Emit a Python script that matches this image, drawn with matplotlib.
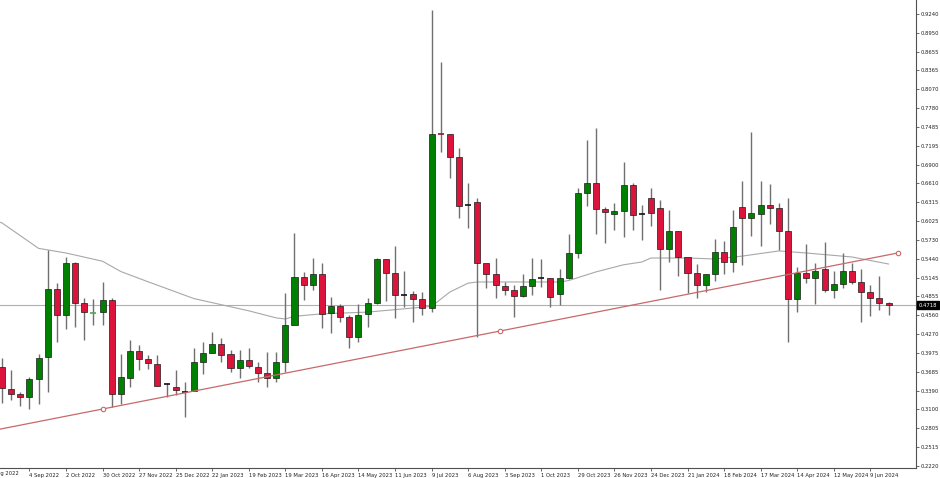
import matplotlib
matplotlib.use("Agg")
import matplotlib.pyplot as plt
import matplotlib.transforms as mtrans
import numpy as np

# weekly candles, first visible week = 14 Aug 2022
opens = [0.3757, 0.3416, 0.3338, 0.3292, 0.3571, 0.3913, 0.4969, 0.4565, 0.5373, 0.4751,
         0.4596, 0.4612, 0.4798, 0.3338, 0.3587, 0.4006, 0.3882, 0.3804, 0.3493, 0.3447,
         0.3369, 0.3385, 0.3835, 0.3975, 0.4115, 0.3959, 0.3742, 0.3866, 0.3757, 0.3664,
         0.3587, 0.3835, 0.4410, 0.5155, 0.5031, 0.5202, 0.4596, 0.4705, 0.4534, 0.4223,
         0.4581, 0.4751, 0.5435, 0.5217, 0.4876, 0.4891, 0.4814, 0.4674, 0.7376, 0.7376,
         0.7019, 0.6273, 0.6320, 0.5373, 0.5202, 0.5015, 0.4953, 0.4860, 0.5015, 0.5140,
         0.5140, 0.4891, 0.5140, 0.5528, 0.6460, 0.6615, 0.6211, 0.6134, 0.6180, 0.6584,
         0.6134, 0.6382, 0.6227, 0.5590, 0.5870, 0.5466, 0.5217, 0.5031, 0.5202, 0.5543,
         0.5388, 0.6242, 0.6071, 0.6134, 0.6273, 0.6227, 0.5870, 0.4814, 0.5217, 0.5140,
         0.5279, 0.4953, 0.5046, 0.5248, 0.5078, 0.4922, 0.4829, 0.4751]
highs = [0.3897, 0.3711, 0.3369, 0.3602, 0.3959, 0.5574, 0.5062, 0.5466, 0.5388, 0.4829,
         0.4814, 0.5078, 0.4829, 0.3959, 0.4177, 0.4099, 0.3944, 0.3944, 0.3509, 0.3711,
         0.3525, 0.4053, 0.4146, 0.4301, 0.4208, 0.4021, 0.4021, 0.4053, 0.3835, 0.3990,
         0.3990, 0.4907, 0.5839, 0.5233, 0.5450, 0.5373, 0.4845, 0.4736, 0.4565, 0.4736,
         0.4829, 0.5450, 0.5435, 0.5637, 0.5248, 0.4938, 0.4922, 0.9302, 0.8494, 0.7376,
         0.7159, 0.6615, 0.6382, 0.5373, 0.5450, 0.5078, 0.5031, 0.5202, 0.5450, 0.5435,
         0.5140, 0.5279, 0.5823, 0.6537, 0.7283, 0.7469, 0.6242, 0.6304, 0.6941, 0.6615,
         0.6273, 0.6537, 0.6351, 0.6196, 0.5870, 0.5466, 0.5357, 0.5202, 0.5745, 0.5714,
         0.6196, 0.6646, 0.7407, 0.6646, 0.6599, 0.6304, 0.6382, 0.5310, 0.5668, 0.5373,
         0.5699, 0.5248, 0.5528, 0.5373, 0.5279, 0.5031, 0.5171, 0.4767]
lows = [0.3198, 0.3245, 0.3152, 0.3105, 0.3183, 0.3369, 0.4146, 0.4348, 0.4379, 0.4177,
        0.4410, 0.4410, 0.3136, 0.3183, 0.3447, 0.3711, 0.3726, 0.3462, 0.3292, 0.3323,
        0.2981, 0.3385, 0.3649, 0.3975, 0.3835, 0.3680, 0.3587, 0.3742, 0.3525, 0.3447,
        0.3525, 0.3680, 0.4410, 0.4798, 0.4953, 0.4363, 0.4286, 0.4456, 0.4053, 0.4146,
        0.4379, 0.4736, 0.4782, 0.4518, 0.4689, 0.4456, 0.4565, 0.4612, 0.7096, 0.6693,
        0.6071, 0.5916, 0.4223, 0.4984, 0.4829, 0.4876, 0.4534, 0.4845, 0.4876, 0.5000,
        0.4689, 0.4720, 0.5124, 0.5450, 0.6258, 0.5823, 0.5683, 0.5885, 0.5776, 0.5885,
        0.5730, 0.5947, 0.4953, 0.5388, 0.5171, 0.4907, 0.4829, 0.4922, 0.5093, 0.5202,
        0.5233, 0.5342, 0.5792, 0.5637, 0.5978, 0.5574, 0.4146, 0.4612, 0.5062, 0.4736,
        0.4922, 0.4829, 0.4984, 0.5046, 0.4456, 0.4550, 0.4643, 0.4565]
closes = [0.3431, 0.3338, 0.3292, 0.3571, 0.3897, 0.4969, 0.4565, 0.5373, 0.4751, 0.4612,
          0.4600, 0.4798, 0.3338, 0.3602, 0.4006, 0.3882, 0.3820, 0.3462, 0.3493, 0.3400,
          0.3369, 0.3835, 0.3975, 0.4115, 0.3944, 0.3742, 0.3866, 0.3773, 0.3664, 0.3587,
          0.3835, 0.4410, 0.5155, 0.5031, 0.5202, 0.4581, 0.4705, 0.4534, 0.4223, 0.4565,
          0.4751, 0.5435, 0.5217, 0.4876, 0.4876, 0.4814, 0.4674, 0.7376, 0.7374, 0.7019,
          0.6258, 0.6273, 0.5373, 0.5202, 0.5031, 0.4953, 0.4860, 0.5015, 0.5124, 0.5140,
          0.4845, 0.5140, 0.5528, 0.6460, 0.6615, 0.6211, 0.6165, 0.6180, 0.6584, 0.6118,
          0.6134, 0.6149, 0.5590, 0.5870, 0.5466, 0.5217, 0.5031, 0.5202, 0.5543, 0.5388,
          0.5932, 0.6071, 0.6149, 0.6273, 0.6227, 0.5870, 0.4814, 0.5217, 0.5140, 0.5248,
          0.4953, 0.5046, 0.5248, 0.5078, 0.4922, 0.4829, 0.4751, 0.4718]

# moving average, read at some bar positions
ma_idx = [-1, 0, 4, 7, 11, 13, 16, 21, 24, 27, 30, 31, 32, 35, 40, 47, 49, 51, 52, 61,
          62, 65, 68, 70, 71, 75, 78, 81, 85, 88, 93, 97]
ma_val = [0.6040, 0.5995, 0.5600, 0.5528, 0.5400, 0.5240, 0.5080, 0.4820, 0.4725, 0.4630,
          0.4520, 0.4503, 0.4545, 0.4583, 0.4610, 0.4700, 0.4922, 0.5060, 0.5078, 0.5078,
          0.5100, 0.5235, 0.5345, 0.5388, 0.5450, 0.5450, 0.5435, 0.5480, 0.5560, 0.5528,
          0.5466, 0.5357]

# trendline anchors (bar index, price)
trend_a = (11, 0.3105)
trend_b = (98, 0.5528)
last_price = 0.4718

yticks = [0.9240, 0.8950, 0.8655, 0.8365, 0.8070, 0.7780, 0.7485, 0.7195, 0.6900, 0.6610,
          0.6315, 0.6025, 0.5730, 0.5440, 0.5145, 0.4855, 0.4560, 0.4270, 0.3975, 0.3685,
          0.3390, 0.3100, 0.2805, 0.2515, 0.2220]
xlabels = ["4 Sep 2022", "2 Oct 2022", "30 Oct 2022", "27 Nov 2022", "25 Dec 2022",
           "22 Jan 2023", "19 Feb 2023", "19 Mar 2023", "16 Apr 2023", "14 May 2023",
           "11 Jun 2023", "9 Jul 2023", "6 Aug 2023", "3 Sep 2023", "1 Oct 2023",
           "29 Oct 2023", "26 Nov 2023", "24 Dec 2023", "21 Jan 2024", "18 Feb 2024",
           "17 Mar 2024", "14 Apr 2024", "12 May 2024", "9 Jun 2024"]
first_label = "14 Aug 2022"

GREEN = "#008000"
RED = "#dc143c"

o = np.array(opens)
h = np.array(highs)
l = np.array(lows)
c = np.array(closes)
x = np.arange(len(o))

fig = plt.figure(figsize=(9.4, 4.78), dpi=100)
ax = fig.add_axes([0, 10 / 478, 916 / 940, 468 / 478])
ax.set_xlim(-0.22, 100.0)
ax.set_ylim(0.2189, 0.9457)

# price line and moving average behind candles
ax.axhline(last_price, color="#a9b2ba", lw=0.8, zorder=1)
ax.plot(ma_idx, ma_val, color="#a8a8a8", lw=0.8, zorder=1)

# wicks
ax.vlines(x, l, h, color="#707070", lw=1.0, zorder=2)

body_w = 0.66
doji = np.abs(c - o) < 0.0005
full = ~doji
up = full & (c > o)
dn = full & (c < o)
ax.bar(x[up], (c - o)[up], bottom=o[up], width=body_w, color=GREEN,
       edgecolor="#1a1a1a", lw=0.5, zorder=3)
ax.bar(x[dn], (o - c)[dn], bottom=c[dn], width=body_w, color=RED,
       edgecolor="#1a1a1a", lw=0.5, zorder=3)
for i in x[doji]:
    col = "#111111"
    if c[i] > o[i]:
        col = "#5aa05a"
    elif c[i] < o[i]:
        col = "#8b1a2a"
    ax.hlines(c[i], i - body_w / 2, i + body_w / 2, color=col, lw=1.2, zorder=3)

# trendline (extended to the left)
slope = (trend_b[1] - trend_a[1]) / (trend_b[0] - trend_a[0])
tx = np.array([-2.0, trend_b[0]])
ty = trend_a[1] + slope * (tx - trend_a[0])
ax.plot(tx, ty, color="#c86868", lw=0.9, zorder=4)
mid = (trend_a[0] + trend_b[0]) / 2
ax.plot([trend_a[0], mid, trend_b[0]],
        [trend_a[1], (trend_a[1] + trend_b[1]) / 2, trend_b[1]],
        ls="none", marker="o", ms=3.2, mfc="white", mec="#c86868", mew=0.8, zorder=5)

# axes styling
for s in ["top", "left"]:
    ax.spines[s].set_visible(False)
ax.spines["right"].set_color("#505050")
ax.spines["bottom"].set_color("#505050")
ax.spines["right"].set_linewidth(0.8)
ax.spines["bottom"].set_linewidth(0.8)

ax.yaxis.tick_right()
ax.set_yticks(yticks)
ax.set_yticklabels([f"{v:.4f}" for v in yticks])
ax.tick_params(axis="y", length=2, width=0.6, pad=1.5, labelsize=3.8,
               colors="#505050", labelcolor="#222222")

ax.set_xticks(np.arange(3, 3 + 4 * len(xlabels), 4))
ax.set_xticklabels(xlabels, ha="left")
ax.tick_params(axis="x", length=2, width=0.6, pad=1.5, labelsize=3.8,
               colors="#505050", labelcolor="#222222")
ax.text(0, -0.006, first_label, transform=mtrans.blended_transform_factory(ax.transData, ax.transAxes),
        ha="center", va="top", fontsize=3.8, color="#222222")

# current price tag
ax.text(1.003, last_price, f"{last_price:.4f}",
        transform=mtrans.blended_transform_factory(ax.transAxes, ax.transData),
        ha="left", va="center", fontsize=3.8, color="white",
        bbox=dict(boxstyle="square,pad=0.25", fc="black", ec="black"), clip_on=False)

fig.savefig("out.png", dpi=100)
